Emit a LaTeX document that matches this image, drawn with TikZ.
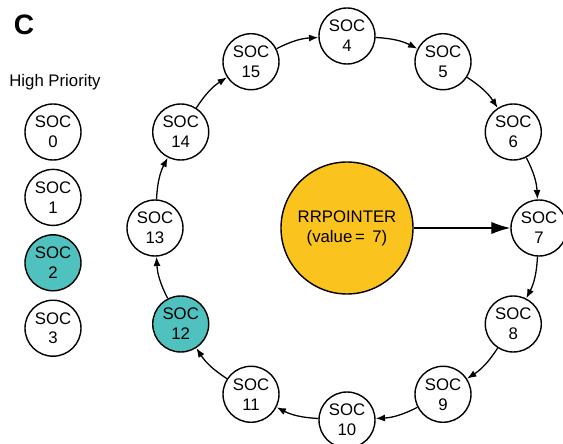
\documentclass[tikz,border=0pt]{standalone}
\usepackage{fontspec}
\setmainfont{Liberation Sans}
\usetikzlibrary{arrows.meta, positioning}
\definecolor{socteal}{HTML}{4FC1BE}
\definecolor{ptryellow}{HTML}{FAC31E}

\begin{document}
\begin{tikzpicture}[
    node distance=0.24cm,
    soc/.style={circle, draw=black, line width=1.2pt, fill=white, minimum size=1.68cm, inner sep=0pt, align=center, font=\fontsize{14.3}{17}\selectfont},
    active/.style={soc, fill=socteal},
    pointer/.style={circle, draw=black, line width=1.2pt, fill=ptryellow, minimum size=3.96cm, inner sep=0pt, align=center, font=\fontsize{14.3}{17}\selectfont},
    arrow/.style={-{Latex[length=0.28cm, width=0.21cm]}, line width=1.1pt},
    bigarrow/.style={-{Latex[length=0.57cm, width=0.37cm]}, line width=1.1pt}
]
    \useasboundingbox (-10.41,-6.48) rectangle (6.48,6.84);

    \node[font=\fontsize{24}{28}\selectfont\bfseries] (label) at (-9.69,6.09) {C};
    \node[font=\fontsize{14.3}{17}\selectfont] (prio) at (-8.76,4.38) {High Priority};

    % high priority column
    \node[soc] (soc0) at (-8.82,2.88) {SOC\\0};
    \node[soc, below=of soc0] (soc1) {SOC\\1};
    \node[active, below=of soc1] (soc2) {SOC\\2};
    \node[soc, below=of soc2] (soc3) {SOC\\3};

    % round robin ring
    \node[pointer] (rr) at (0,0) {RRPOINTER\\(value\,=\, 7)};
    \node[soc] (soc4) at (90:5.76) {SOC\\4};
    \node[soc] (soc5) at (60:5.76) {SOC\\5};
    \node[soc] (soc6) at (30:5.76) {SOC\\6};
    \node[soc] (soc7) at (0:5.76) {SOC\\7};
    \node[soc] (soc8) at (-30:5.76) {SOC\\8};
    \node[soc] (soc9) at (-60:5.76) {SOC\\9};
    \node[soc] (soc10) at (-90:5.76) {SOC\\10};
    \node[soc] (soc11) at (-120:5.76) {SOC\\11};
    \node[active] (soc12) at (-150:5.76) {SOC\\12};
    \node[soc] (soc13) at (180:5.76) {SOC\\13};
    \node[soc] (soc14) at (150:5.76) {SOC\\14};
    \node[soc] (soc15) at (120:5.76) {SOC\\15};

    \draw[arrow] (soc4) to[bend left=12] (soc5);
    \draw[arrow] (soc5) to[bend left=12] (soc6);
    \draw[arrow] (soc6) to[bend left=12] (soc7);
    \draw[arrow] (soc7) to[bend left=12] (soc8);
    \draw[arrow] (soc8) to[bend left=12] (soc9);
    \draw[arrow] (soc9) to[bend left=12] (soc10);
    \draw[arrow] (soc10) to[bend left=12] (soc11);
    \draw[arrow] (soc11) to[bend left=12] (soc12);
    \draw[arrow] (soc12) to[bend left=12] (soc13);
    \draw[arrow] (soc13) to[bend left=12] (soc14);
    \draw[arrow] (soc14) to[bend left=12] (soc15);
    \draw[arrow] (soc15) to[bend left=12] (soc4);
    \draw[bigarrow] (rr) -- (soc7);
\end{tikzpicture}
\end{document}
